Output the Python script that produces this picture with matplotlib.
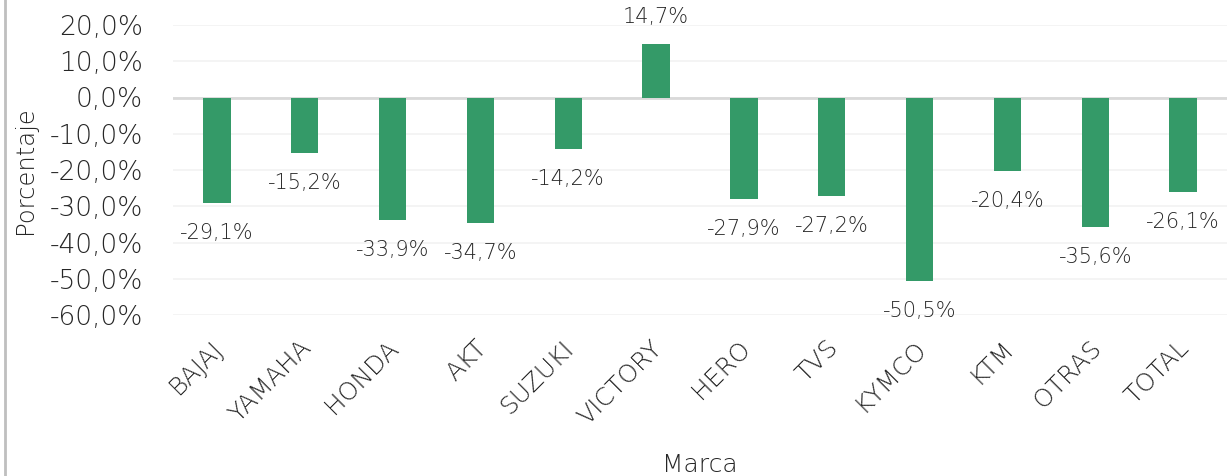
import numpy as np
import matplotlib.pyplot as plt
import matplotlib.transforms as mtransforms
from matplotlib.lines import Line2D

marcas = ["BAJAJ", "YAMAHA", "HONDA", "AKT", "SUZUKI", "VICTORY",
          "HERO", "TVS", "KYMCO", "KTM", "OTRAS", "TOTAL"]
variacion = [-29.1, -15.2, -33.9, -34.7, -14.2, 14.7,
             -27.9, -27.2, -50.5, -20.4, -35.6, -26.1]
yticks = [20, 10, 0, -10, -20, -30, -40, -50, -60]

plt.rcParams['font.family'] = ['DejaVu Sans']
plt.rcParams['font.weight'] = 'light'
txt = '#262626'

fig = plt.figure(figsize=(12.27, 4.76), dpi=100)
W, H = 1227, 476
ax = fig.add_axes([173 / W, 1 - 315 / H, (1227 - 173) / W, (315 - 25) / H])

x = np.arange(len(marcas))
ax.bar(x, variacion, width=0.31, color='#349a68', zorder=3)

for xi, v in zip(x, variacion):
    off = 27 if v > 0 else -30
    ax.annotate(f"{v:.1f}%".replace('.', ','), (xi, v), xytext=(0, off),
                textcoords='offset pixels', ha='center', va='center',
                fontsize=15, color=txt, annotation_clip=False)

ax.set_xlim(-0.5, len(marcas) - 0.5)
ax.set_ylim(-60, 20)
ax.set_yticks(yticks)
ax.set_yticklabels([f"{t:.1f}%".replace('.', ',') for t in yticks],
                   fontsize=19, color=txt)
ax.set_xticks(x)
ax.set_xticklabels(marcas, rotation=45, ha='right', va='top',
                   rotation_mode='anchor', fontsize=18, color=txt)
ax.tick_params(length=0, pad=21.6, axis='y')
ax.tick_params(length=0, pad=15, axis='x')
shift = mtransforms.ScaledTranslation(-6 / 100, 0, fig.dpi_scale_trans)
for lbl in ax.get_xticklabels():
    lbl.set_transform(lbl.get_transform() + shift)

ax.grid(axis='y', color='#f2f2f2', linewidth=1.2, zorder=0)
ax.axhline(0, color='#d9d9d9', linewidth=2, zorder=2)
for s in ax.spines.values():
    s.set_visible(False)

fig.text(25 / W, 1 - 170 / H, "Porcentaje", rotation=90, ha='center',
         va='center', fontsize=17.5, color=txt)
fig.text(700 / W, 1 - 465 / H, "Marca", ha='center', va='center',
         fontsize=18, color=txt)

fig.add_artist(Line2D([4.5 / W, 4.5 / W], [0, 1], color='#bfbfbf', linewidth=2))

fig.savefig("out.png", dpi=100)
